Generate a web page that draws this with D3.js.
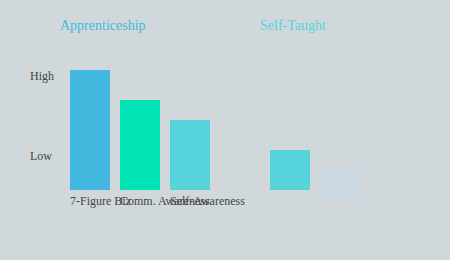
<!DOCTYPE html>
<html>
<head>
<meta charset="utf-8">
<script src="https://cdn.jsdelivr.net/npm/d3@7"></script>
<style>
  body { margin: 0; background: #d0d8db; }
  svg text { font-family: "Liberation Serif", "Times New Roman", serif; }
</style>
</head>
<body>
<div id="chart"></div>
<script>
// data
var slots = ["biz", "comm", "self", "gap", "st1", "st2"];
var labels = ["7-Figure Biz", "Comm. Awareness", "Self-Awareness", "", "", ""];
var lows = [0, 0, 0, null, 0, -10];
var highs = [120, 90, 70, null, 40, 20];
var colors = ["#42b8de", "#00e3b4", "#56d3db", null, "#56d3db", "#cbd7e3"];
var groups = [{name: "Apprenticeship", first: "biz", color: "#42b8dd"},
              {name: "Self-Taught", first: "st1", color: "#56d3db"}];
var yLabels = [{label: "High", value: 120}, {label: "Low", value: 40}];

var width = 450, height = 260;

var svg = d3.select("#chart")
  .append("svg")
  .attr("width", width)
  .attr("height", height);

svg.append("rect")
  .attr("width", width)
  .attr("height", height)
  .attr("fill", "#d0d8db");

var x = d3.scaleBand()
  .domain(slots)
  .range([70, 360])
  .paddingInner(0.2)
  .paddingOuter(0);

var y = d3.scaleLinear()
  .domain([0, 120])
  .range([190, 70]);

var data = [];
for (i = 0; i < slots.length; i++) {
  if (highs[i] == null) continue;
  data.push({key: slots[i], label: labels[i], low: lows[i], high: highs[i], color: colors[i]});
}

// bars
svg.selectAll("rect.bar")
  .data(data)
  .enter()
  .append("rect")
  .attr("class", "bar")
  .attr("x", function(d) { return x(d.key); })
  .attr("y", function(d) { return y(d.high); })
  .attr("width", x.bandwidth())
  .attr("height", function(d) { return y(d.low) - y(d.high); })
  .attr("fill", function(d) { return d.color; });

// category labels (they overlap, like the original)
svg.selectAll("text.cat")
  .data(data.filter(function(d) { return d.label != ""; }))
  .enter()
  .append("text")
  .attr("class", "cat")
  .attr("x", function(d) { return x(d.key); })
  .attr("y", y(0) + 15)
  .attr("font-size", 12)
  .attr("fill", "#444")
  .text(function(d) { return d.label; });

// High / Low
svg.selectAll("text.ylab")
  .data(yLabels)
  .enter()
  .append("text")
  .attr("class", "ylab")
  .attr("x", 30)
  .attr("y", function(d) { return y(d.value) + 10; })
  .attr("font-size", 12)
  .attr("fill", "#444")
  .text(function(d) { return d.label; });

// group titles
svg.selectAll("text.title")
  .data(groups)
  .enter()
  .append("text")
  .attr("class", "title")
  .attr("x", function(d) { return x(d.first) - 10; })
  .attr("y", 30)
  .attr("font-size", 14)
  .attr("fill", function(d) { return d.color; })
  .text(function(d) { return d.name; });
</script>
</body>
</html>
